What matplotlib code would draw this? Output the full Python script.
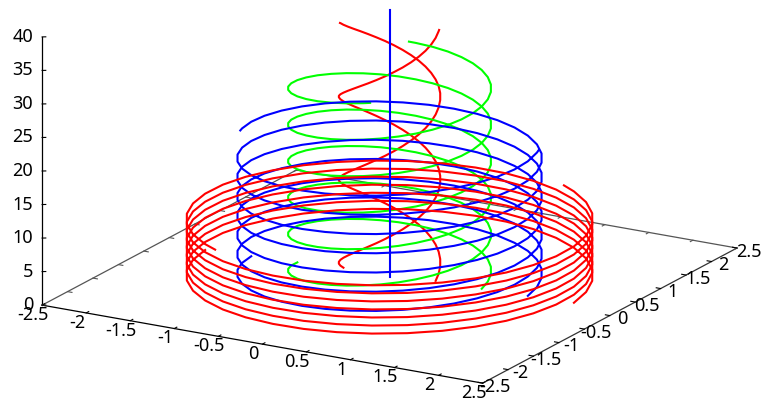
import numpy as np
import matplotlib
matplotlib.use("Agg")
import matplotlib.pyplot as plt
from mpl_toolkits.mplot3d import proj3d

plt.rcParams['font.family'] = ['Noto Sans', 'DejaVu Sans']

# angle along the helix in degrees, shared by all curves (shorter ones stop early)
angle = [5, 15, 25, 35, 45, 55, 65, 75, 85, 95, 105, 115, 125, 135, 145, 155, 165, 175, 185, 195,
         205, 215, 225, 235, 245, 255, 265, 275, 285, 295, 305, 315, 325, 335, 345, 355, 365, 375,
         385, 395, 405, 415, 425, 435, 445, 455, 465, 475, 485, 495, 505, 515, 525, 535, 545, 555,
         565, 575, 585, 595, 605, 615, 625, 635, 645, 655, 665, 675, 685, 695, 705, 715, 725, 735,
         745, 755, 765, 775, 785, 795, 805, 815, 825, 835, 845, 855, 865, 875, 885, 895, 905, 915,
         925, 935, 945, 955, 965, 975, 985, 995, 1005, 1015, 1025, 1035, 1045, 1055, 1065, 1075,
         1085, 1095, 1105, 1115, 1125, 1135, 1145, 1155, 1165, 1175, 1185, 1195, 1205, 1215, 1225,
         1235, 1245, 1255, 1265, 1275, 1285, 1295, 1305, 1315]

# angle where each curve stops
end_r05 = 557
end_r10 = 1009
end_r15 = 1278
end_r20 = 1321

# height of each helix read at those angles, last value is at the end angle
z_r05 = [0.34, 1.03, 1.72, 2.41, 3.10, 3.79, 4.48, 5.17, 5.86, 6.55, 7.23, 7.92, 8.61, 9.30, 9.99,
         10.68, 11.37, 12.06, 12.75, 13.44, 14.13, 14.82, 15.50, 16.19, 16.88, 17.57, 18.26, 18.95,
         19.64, 20.33, 21.02, 21.71, 22.40, 23.09, 23.77, 24.46, 25.15, 25.84, 26.53, 27.16, 27.79,
         28.41, 29.04, 29.67, 30.30, 30.92, 31.55, 32.18, 32.81, 33.43, 34.06, 34.69, 35.31, 35.94,
         36.57, 37.20, 37.30]

z_r10 = [0.15, 0.45, 0.75, 1.06, 1.36, 1.66, 1.96, 2.26, 2.57, 2.87, 3.17, 3.47, 3.77, 4.08, 4.38,
         4.68, 4.98, 5.28, 5.59, 5.89, 6.19, 6.49, 6.79, 7.10, 7.40, 7.70, 8.00, 8.30, 8.61, 8.91,
         9.21, 9.51, 9.81, 10.12, 10.42, 10.72, 11.02, 11.32, 11.63, 11.93, 12.23, 12.53, 12.83,
         13.14, 13.44, 13.74, 14.04, 14.34, 14.65, 14.95, 15.25, 15.55, 15.85, 16.16, 16.46, 16.76,
         17.06, 17.36, 17.67, 17.97, 18.27, 18.57, 18.87, 19.18, 19.48, 19.78, 20.08, 20.38, 20.69,
         20.99, 21.29, 21.59, 21.89, 22.20, 22.50, 22.80, 23.10, 23.40, 23.71, 24.01, 24.31, 24.61,
         24.91, 25.22, 25.52, 25.82, 26.12, 26.42, 26.73, 27.03, 27.33, 27.63, 27.93, 28.24, 28.54,
         28.84, 29.14, 29.44, 29.75, 30.05, 30.35, 30.47]

z_r15 = [0.08, 0.24, 0.40, 0.56, 0.72, 0.88, 1.03, 1.19, 1.35, 1.51, 1.67, 1.83, 1.99, 2.15, 2.31,
         2.47, 2.63, 2.79, 2.95, 3.10, 3.26, 3.42, 3.58, 3.74, 3.90, 4.06, 4.22, 4.38, 4.54, 4.70,
         4.86, 5.02, 5.17, 5.33, 5.49, 5.65, 5.81, 5.97, 6.13, 6.29, 6.45, 6.61, 6.77, 6.93, 7.08,
         7.24, 7.40, 7.56, 7.72, 7.88, 8.04, 8.20, 8.36, 8.52, 8.68, 8.84, 9.00, 9.15, 9.31, 9.47,
         9.63, 9.79, 9.95, 10.11, 10.27, 10.43, 10.59, 10.75, 10.91, 11.06, 11.22, 11.38, 11.54,
         11.70, 11.86, 12.02, 12.18, 12.34, 12.50, 12.66, 12.82, 12.98, 13.13, 13.29, 13.45, 13.61,
         13.77, 13.93, 14.09, 14.25, 14.41, 14.57, 14.73, 14.89, 15.04, 15.20, 15.36, 15.52, 15.68,
         15.84, 16.00, 16.16, 16.32, 16.48, 16.64, 16.80, 16.96, 17.11, 17.27, 17.43, 17.59, 17.75,
         17.91, 18.07, 18.23, 18.39, 18.55, 18.71, 18.87, 19.02, 19.18, 19.34, 19.50, 19.66, 19.82,
         19.98, 20.14, 20.30, 20.34]

z_r20 = [0.03, 0.10, 0.17, 0.23, 0.30, 0.37, 0.43, 0.50, 0.57, 0.63, 0.70, 0.77, 0.83, 0.90, 0.97,
         1.03, 1.10, 1.17, 1.23, 1.30, 1.37, 1.43, 1.50, 1.57, 1.63, 1.70, 1.77, 1.83, 1.90, 1.97,
         2.03, 2.10, 2.17, 2.23, 2.30, 2.37, 2.43, 2.50, 2.57, 2.63, 2.70, 2.77, 2.83, 2.90, 2.97,
         3.03, 3.10, 3.17, 3.23, 3.30, 3.37, 3.43, 3.50, 3.57, 3.63, 3.70, 3.77, 3.83, 3.90, 3.97,
         4.03, 4.10, 4.17, 4.23, 4.30, 4.37, 4.43, 4.50, 4.57, 4.63, 4.70, 4.77, 4.83, 4.90, 4.97,
         5.03, 5.10, 5.17, 5.23, 5.30, 5.37, 5.43, 5.50, 5.57, 5.63, 5.70, 5.77, 5.83, 5.90, 5.97,
         6.03, 6.10, 6.17, 6.23, 6.30, 6.37, 6.43, 6.50, 6.57, 6.63, 6.70, 6.77, 6.83, 6.90, 6.97,
         7.03, 7.10, 7.17, 7.23, 7.30, 7.37, 7.43, 7.50, 7.57, 7.63, 7.70, 7.77, 7.83, 7.90, 7.97,
         8.03, 8.10, 8.17, 8.23, 8.30, 8.37, 8.43, 8.50, 8.57, 8.63, 8.70, 8.77, 8.81]

z_center = [0, 39.8]

xy_ticks = [-2.5, -2, -1.5, -1, -0.5, 0, 0.5, 1, 1.5, 2, 2.5]
xy_tick_labels = ['-2.5', '-2', '-1.5', '-1', '-0.5', '0', '0.5', '1', '1.5', '2', '2.5']
z_ticks = [0, 5, 10, 15, 20, 25, 30, 35, 40]


def draw_helix(ax, radius, z_values, end_angle, color, order):
    a = np.radians(angle[:len(z_values) - 1] + [end_angle])
    for r in (radius, -radius):
        ax.plot(r * np.cos(a), r * np.sin(a), z_values, color=color, lw=1.5, zorder=order)


def label_at(ax, x, y, z, text, ha):
    # plain 2D text placed at the projected position of a 3D point
    px, py, _ = proj3d.proj_transform(x, y, z, ax.get_proj())
    ax.text2D(px, py, text, transform=ax.transData, fontsize=13, ha=ha, va='center', zorder=7)


def draw_frame(ax):
    lo, hi = -2.5, 2.5
    ax.plot([lo, hi], [lo, lo], [0, 0], color='black', lw=0.9, zorder=1)
    ax.plot([hi, hi], [lo, hi], [0, 0], color='#333333', lw=0.9, zorder=1)
    ax.plot([lo, lo], [lo, hi], [0, 0], color='#555555', lw=0.9, zorder=1)
    ax.plot([lo, hi], [hi, hi], [0, 0], color='#555555', lw=0.9, zorder=1)
    ax.plot([lo, lo], [lo, lo], [0, 40], color='black', lw=0.9, zorder=1)

    for t, label in zip(xy_ticks, xy_tick_labels):
        ax.plot([t, t], [lo, lo + 0.05], [0, 0], color='black', lw=0.8, zorder=1)
        ax.plot([t, t], [hi, hi - 0.05], [0, 0], color='#555555', lw=0.8, zorder=1)
        ax.plot([hi, hi - 0.05], [t, t], [0, 0], color='black', lw=0.8, zorder=1)
        ax.plot([lo, lo + 0.05], [t, t], [0, 0], color='#555555', lw=0.8, zorder=1)
        label_at(ax, t + 0.08, lo - 0.32, 0, label, 'center')
        label_at(ax, hi + 0.16, t - 0.04, 0, label, 'center')

    for t in z_ticks:
        ax.plot([lo, lo + 0.03], [lo, lo + 0.02], [t, t], color='black', lw=0.8, zorder=1)
        label_at(ax, lo - 0.076, lo - 0.044, t, str(t), 'right')


def main():
    fig = plt.figure(figsize=(7.67, 4.03), dpi=100)
    ax = fig.add_subplot(111, projection='3d', computed_zorder=False)
    ax.set_proj_type('ortho')
    ax.view_init(elev=17.86, azim=-60)
    ax.set_box_aspect((509, 509, 282))
    ax.set_position([4.4 / 767, -124.6 / 403, 750 / 767, 750 / 403])
    ax.set_axis_off()

    ax.set_xlim(-2.5, 2.5)
    ax.set_ylim(-2.5, 2.5)
    ax.set_zlim(0, 40)

    draw_frame(ax)
    draw_helix(ax, 0.5, z_r05, end_r05, '#ff0000', 2)
    draw_helix(ax, 1.0, z_r10, end_r10, '#00ff00', 3)
    draw_helix(ax, 1.5, z_r15, end_r15, '#0000ff', 4)
    draw_helix(ax, 2.0, z_r20, end_r20, '#ff0000', 5)
    ax.plot([0, 0], [0, 0], z_center, color='#0000ff', lw=1.5, zorder=6)

    fig.savefig('out.png', dpi=100)


if __name__ == '__main__':
    main()
